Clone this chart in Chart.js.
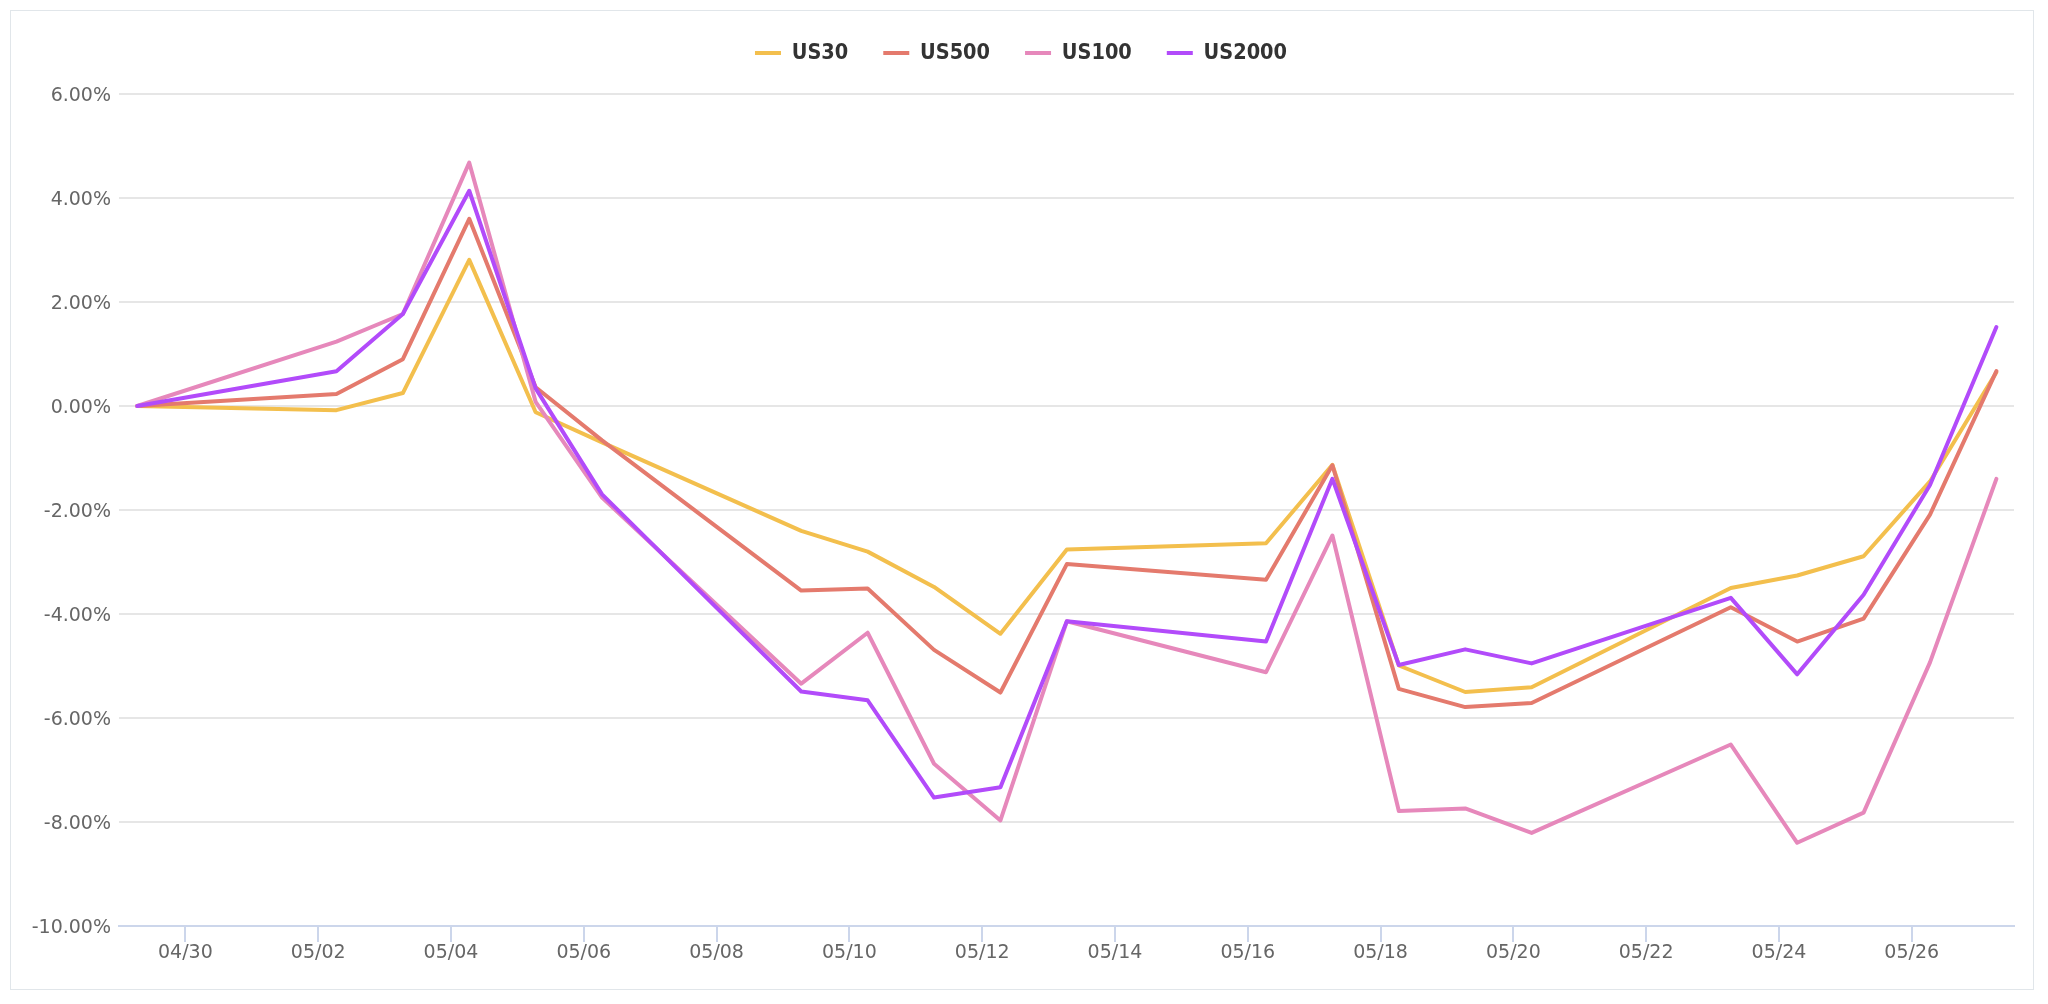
<!DOCTYPE html>
<html>
<head>
<meta charset="utf-8">
<title>US indices</title>
<script src="https://cdn.jsdelivr.net/npm/chart.js@4.4.1/dist/chart.umd.min.js"></script>
<style>
    html, body { margin: 0; padding: 0; background: #fff; }
    #frame {
        position: absolute; left: 10px; top: 10px;
        width: 2024px; height: 980px;
        box-sizing: border-box;
        border: 1px solid #e1e6ea;
    }
    #wrap { position: absolute; left: 0; top: 0; width: 2048px; height: 1004px; }
</style>
</head>
<body>
<div id="frame"></div>
<div id="wrap"><canvas id="myChart"></canvas></div>
<script>
// trading days (2022), values are % change since 04/29
var dates = ['04/29', '05/02', '05/03', '05/04', '05/05', '05/06', '05/09', '05/10', '05/11', '05/12', '05/13',
             '05/16', '05/17', '05/18', '05/19', '05/20', '05/23', '05/24', '05/25', '05/26', '05/27'];

var us30   = [0, -0.08, 0.25, 2.81, -0.12, -0.70, -2.40, -2.80, -3.48, -4.38, -2.76,
              -2.64, -1.13, -4.99, -5.50, -5.41, -3.50, -3.26, -2.89, -1.45, 0.65];
var us500  = [0, 0.23, 0.90, 3.60, 0.36, -0.66, -3.55, -3.51, -4.69, -5.51, -3.04,
              -3.34, -1.14, -5.44, -5.79, -5.71, -3.87, -4.53, -4.09, -2.09, 0.67];
var us100  = [0, 1.24, 1.77, 4.68, 0.08, -1.76, -5.34, -4.36, -6.88, -7.97, -4.14,
              -5.12, -2.49, -7.79, -7.74, -8.21, -6.51, -8.40, -7.82, -4.93, -1.40];
var us2000 = [0, 0.67, 1.77, 4.14, 0.34, -1.70, -5.49, -5.66, -7.53, -7.33, -4.14,
              -4.53, -1.40, -4.98, -4.68, -4.95, -3.69, -5.16, -3.63, -1.52, 1.52];

var xTickLabels = ['04/30', '05/02', '05/04', '05/06', '05/08', '05/10', '05/12',
                   '05/14', '05/16', '05/18', '05/20', '05/22', '05/24', '05/26'];
var yTicks = [-10, -8, -6, -4, -2, 0, 2, 4, 6];

// days since 04/29 00:00
function dayNum(s) {
    var p = s.split('/');
    var m = +p[0], d = +p[1];
    return m === 4 ? d - 29 : d + 1;
}

// quotes are stamped a few hours into the day
var stampOffset = 0.275;

function toPoints(values) {
    return values.map(function (v, i) {
        return { x: dayNum(dates[i]) + stampOffset, y: v };
    });
}

function series(label, values, color, order) {
    return {
        label: label,
        data: toPoints(values),
        borderColor: color,
        backgroundColor: color,
        borderWidth: 4,
        borderJoinStyle: 'round',
        borderCapStyle: 'round',
        pointRadius: 0,
        tension: 0,
        fill: false,
        order: order
    };
}

Chart.defaults.font.family = '"DejaVu Sans", sans-serif';

var ctx = document.getElementById('myChart').getContext('2d');
var chart = new Chart(ctx, {
    type: 'line',
    data: {
        datasets: [
            series('US30', us30, '#f3bf4d', 3),
            series('US500', us500, '#e47a6d', 2),
            series('US100', us100, '#e688bb', 1),
            series('US2000', us2000, '#b24bfa', 0)
        ]
    },
    options: {
        responsive: true,
        maintainAspectRatio: false,
        animation: false,
        layout: {
            padding: { left: 28, right: 34, top: 7.25, bottom: 0 }
        },
        plugins: {
            tooltip: { enabled: false },
            legend: {
                position: 'top',
                labels: {
                    color: '#333333',
                    font: { family: '"DejaVu Sans Condensed", "DejaVu Sans", sans-serif', size: 21.5, weight: 'bold' },
                    boxWidth: 26,
                    boxHeight: 4,
                    padding: 35,
                    generateLabels: function (chart) {
                        return chart.data.datasets.map(function (ds, i) {
                            return {
                                text: ds.label,
                                fillStyle: ds.borderColor,
                                strokeStyle: ds.borderColor,
                                lineWidth: 0,
                                fontColor: '#333333',
                                hidden: false,
                                datasetIndex: i
                            };
                        });
                    }
                }
            }
        },
        scales: {
            x: {
                type: 'linear',
                min: 0,
                max: 28.54,
                afterBuildTicks: function (scale) {
                    scale.ticks = xTickLabels.map(function (l) { return { value: dayNum(l) }; });
                },
                afterFit: function (scale) { scale.height = 78; },
                border: { color: '#ccd6eb', width: 2 },
                grid: { drawOnChartArea: false, color: '#ccd6eb', lineWidth: 2, tickLength: 16 },
                ticks: {
                    color: '#666666',
                    font: { size: 19 },
                    padding: 0,
                    maxRotation: 0,
                    autoSkip: false,
                    callback: function (value, index) { return xTickLabels[index]; }
                }
            },
            y: {
                min: -10,
                max: 6.39,
                afterBuildTicks: function (scale) {
                    scale.ticks = yTicks.map(function (v) { return { value: v }; });
                },
                afterFit: function (scale) { scale.width = 91; },
                border: { display: false },
                grid: { color: '#e6e6e6', lineWidth: 2, drawTicks: false },
                ticks: {
                    color: '#666666',
                    font: { size: 19 },
                    padding: 8,
                    labelOffset: 2,
                    callback: function (value) { return value.toFixed(2) + '%'; }
                }
            }
        }
    }
});
</script>
</body>
</html>
